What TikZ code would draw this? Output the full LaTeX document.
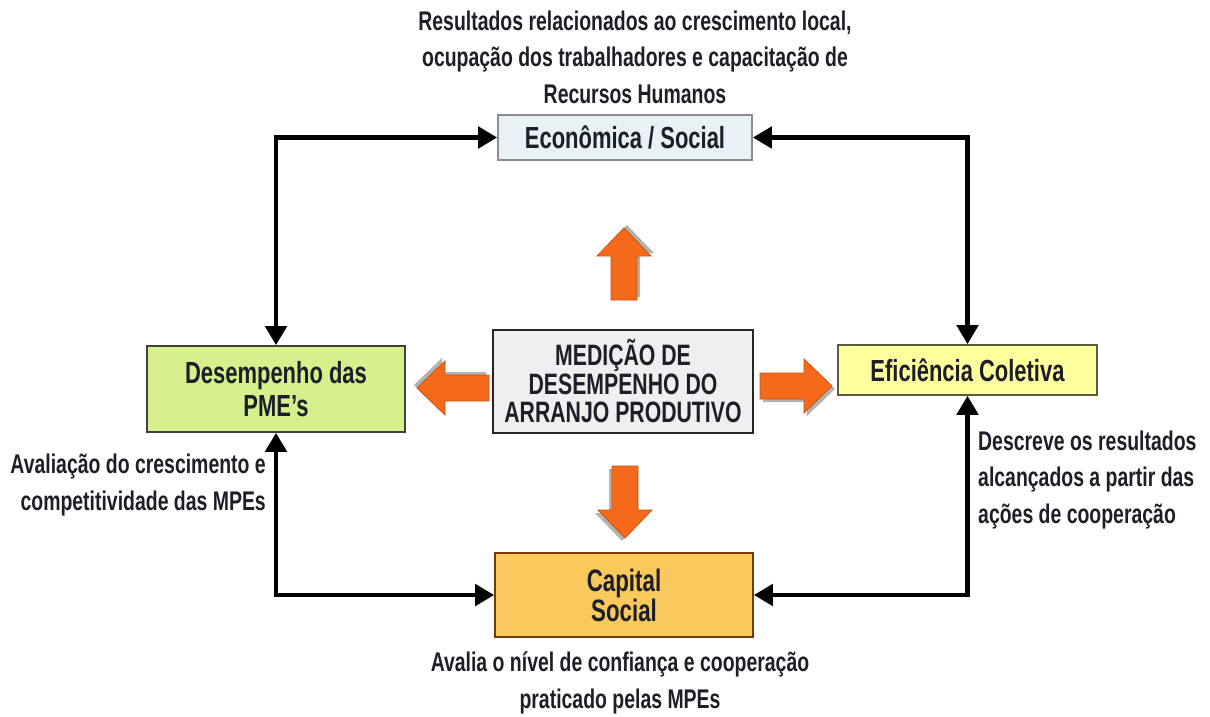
\documentclass[tikz,border=0pt]{standalone}
\usepackage{fontspec}
\setmainfont{Liberation Sans}[FakeStretch=0.72]
\usetikzlibrary{arrows.meta}
\definecolor{ink}{HTML}{1E1E28}
\definecolor{fatorange}{HTML}{F46A1A}
\definecolor{fatedge}{HTML}{C85212}
\definecolor{econfill}{HTML}{E8F1F4}
\definecolor{desfill}{HTML}{D6F08E}
\definecolor{medfill}{HTML}{EFEFEF}
\definecolor{effill}{HTML}{FFFF9E}
\definecolor{capfill}{HTML}{F9C95C}
\tikzset{
  box/.style={draw, line width=1.6pt, inner sep=0pt, align=center, text=ink,
    font=\bfseries\fontsize{30.5}{33}\selectfont},
  conn/.style={line width=4.8pt, draw=black, {Triangle[length=19pt,width=21pt]}-{Triangle[length=19pt,width=21pt]}},
  note/.style={text=ink, inner sep=0pt, font=\bfseries\fontsize{27}{36.5}\selectfont},
  fatarrow/.pic={
    \fill[black!30, xshift=3pt, yshift=-3pt]
      (0,-13) -- (44,-13) -- (44,-27) -- (72,0) -- (44,27) -- (44,13) -- (0,13) -- cycle;
    \filldraw[fill=fatorange, draw=fatedge, line width=0.8pt]
      (0,-13) -- (44,-13) -- (44,-27) -- (72,0) -- (44,27) -- (44,13) -- (0,13) -- cycle;
  }
}
\begin{document}
\begin{tikzpicture}[x=1pt, y=-1pt]
  \useasboundingbox[fill=white] (0,0) rectangle (1210,717);

  % boxes
  \node[box, fill=econfill, draw=black!45, minimum width=254pt, minimum height=45pt]
    (econ) at (625,137.5) {Econômica / Social};
  \node[box, fill=desfill, draw=black!75, minimum width=258pt, minimum height=86pt]
    (des) at (276,389) {Desempenho das\\PME’s};
  \node[box, fill=medfill, draw=black!85, minimum width=260pt, minimum height=103pt,
    font=\bfseries\fontsize{29.5}{28.5}\selectfont]
    (med) at (623,381.5) {MEDIÇÃO DE\\DESEMPENHO DO\\ARRANJO PRODUTIVO};
  \node[box, fill=effill, draw=black!55!yellow!60!black, minimum width=259pt, minimum height=50pt]
    (efi) at (967.5,370) {Eficiência Coletiva};
  \node[box, fill=capfill, draw=black!35!orange!70!black, minimum width=258pt, minimum height=84pt,
    font=\bfseries\fontsize{31}{27}\selectfont]
    (cap) at (624,595) {Capital\\Social};

  % connectors
  \draw[conn] (econ.west) -| (des.north);
  \draw[conn] (econ.east) -| (efi.north);
  \draw[conn] (des.south) |- (cap.west);
  \draw[conn] (efi.south) |- (cap.east);

  % orange arrows from the central box
  \pic[rotate=90]  at (624,300) {fatarrow};
  \pic[rotate=180] at (489,388) {fatarrow};
  \pic[rotate=0]   at (760,386) {fatarrow};
  \pic[rotate=270] at (625,466) {fatarrow};

  % notes
  \node[note, align=center] (topnote) at (635,57)
    {Resultados relacionados ao crescimento local,\\ocupação dos trabalhadores e capacitação de\\Recursos Humanos};
  \node[note, align=right, anchor=east] (leftnote) at (266,485)
    {Avaliação do crescimento e\\competitividade das MPEs};
  \node[note, align=left, anchor=west] (rightnote) at (978,480)
    {Descreve os resultados\\alcançados a partir das\\ações de cooperação};
  \node[note, align=center] (botnote) at (620,683)
    {Avalia o nível de confiança e cooperação\\praticado pelas MPEs};
\end{tikzpicture}
\end{document}
